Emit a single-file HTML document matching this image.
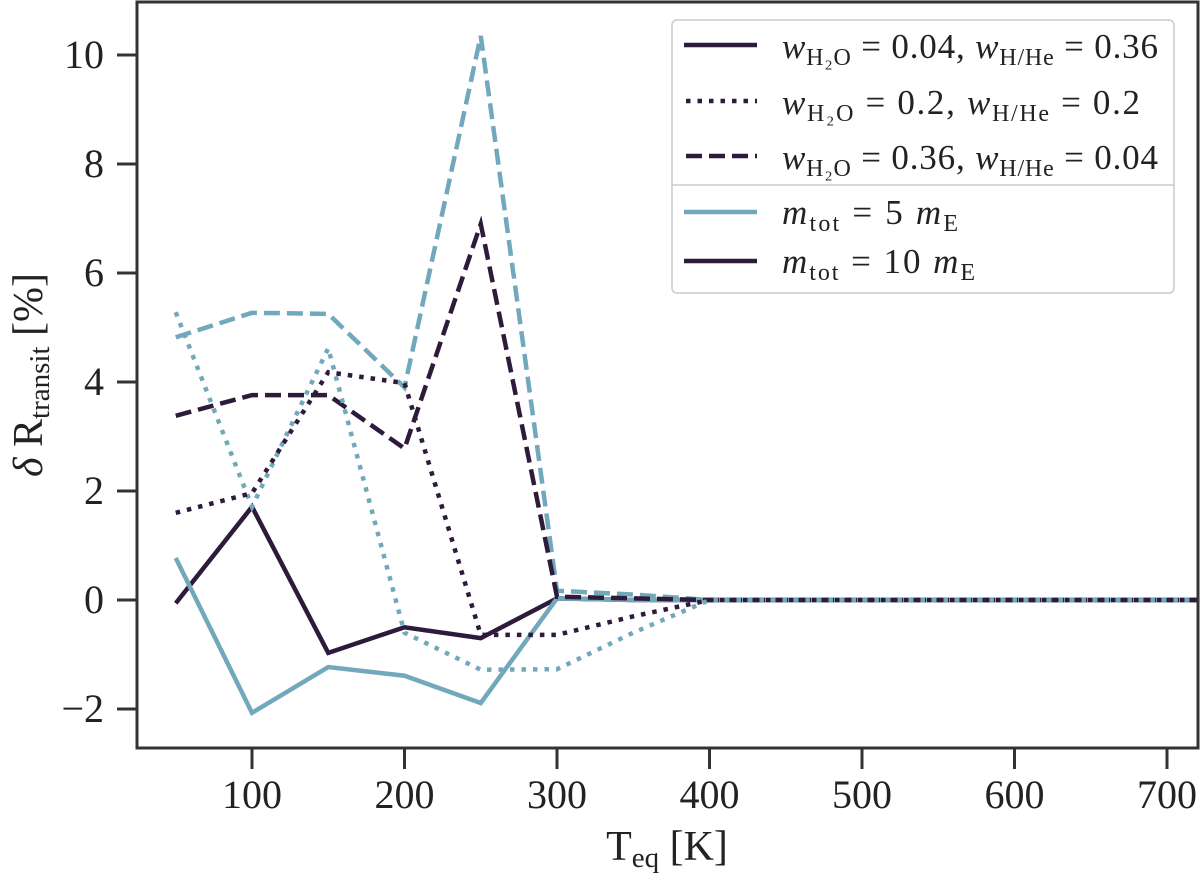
<!DOCTYPE html>
<html><head><meta charset="utf-8"><style>
html,body{margin:0;padding:0;background:#fff;}
svg, svg text{font-family:"Liberation Serif","Times New Roman","DejaVu Serif",serif;}
</style></head><body>
<svg id="chart" width="1200" height="875" viewBox="0 0 1200 875" font-family="Liberation Serif, serif">
<g id="plot"></g>
<rect x="137" y="2" width="1061" height="746" fill="none" stroke="#333" stroke-width="3"/>
<g id="ticks"></g>
<text x="667" y="860" font-size="42" text-anchor="middle" fill="#222">T<tspan font-size="29" dy="7">eq</tspan><tspan dy="-7"> [K]</tspan></text>
<text transform="translate(42,375) rotate(-90)" font-size="42" text-anchor="middle" fill="#222"><tspan font-style="italic">δ</tspan> R<tspan font-size="29" dy="7">transit</tspan><tspan dy="-7"> [%]</tspan></text>
<g>
<rect x="672" y="20" width="502" height="273" rx="5" fill="#fff" fill-opacity="0.85" stroke="#ccc" stroke-width="1.5"/>
<line x1="672" y1="185" x2="1174" y2="185" stroke="#ccc" stroke-width="1.5"/>
<g font-size="35" fill="#222">
<line x1="684" y1="45" x2="757" y2="45" stroke="#2e1a3b" stroke-width="4.5"/>
<text x="782" y="58" textLength="376" lengthAdjust="spacing"><tspan font-style="italic">w</tspan><tspan font-size="24" dy="7">H₂O</tspan><tspan dy="-7"> = 0.04, </tspan><tspan font-style="italic">w</tspan><tspan font-size="24" dy="7">H/He</tspan><tspan dy="-7"> = 0.36</tspan></text>
<line x1="686" y1="101" x2="757" y2="101" stroke="#2e1a3b" stroke-width="4.5" stroke-dasharray="4.5,7"/>
<text x="782" y="114" textLength="358" lengthAdjust="spacing"><tspan font-style="italic">w</tspan><tspan font-size="24" dy="7">H₂O</tspan><tspan dy="-7"> = 0.2,    </tspan><tspan font-style="italic">w</tspan><tspan font-size="24" dy="7">H/He</tspan><tspan dy="-7"> = 0.2</tspan></text>
<line x1="686" y1="156" x2="757" y2="156" stroke="#2e1a3b" stroke-width="4.5" stroke-dasharray="16,7"/>
<text x="782" y="169" textLength="376" lengthAdjust="spacing"><tspan font-style="italic">w</tspan><tspan font-size="24" dy="7">H₂O</tspan><tspan dy="-7"> = 0.36, </tspan><tspan font-style="italic">w</tspan><tspan font-size="24" dy="7">H/He</tspan><tspan dy="-7"> = 0.04</tspan></text>
<line x1="684" y1="212" x2="757" y2="212" stroke="#72a8bb" stroke-width="4.5"/>
<text x="782" y="224" textLength="176" lengthAdjust="spacing"><tspan font-style="italic">m</tspan><tspan font-size="24" dy="7">tot</tspan><tspan dy="-7"> = 5 </tspan><tspan font-style="italic">m</tspan><tspan font-size="24" dy="7">E</tspan></text>
<line x1="684" y1="261" x2="757" y2="261" stroke="#2e1a3b" stroke-width="4.5"/>
<text x="782" y="273" textLength="193" lengthAdjust="spacing"><tspan font-style="italic">m</tspan><tspan font-size="24" dy="7">tot</tspan><tspan dy="-7"> = 10 </tspan><tspan font-style="italic">m</tspan><tspan font-size="24" dy="7">E</tspan></text>
</g></g>
</svg>
<script>
const temps = [50,100,150,200,250,300,350,400,450,500,550,600,650,700,750];
const lightSolid  = [0.77,-2.07,-1.23,-1.39,-1.89,0.03,0,0,0,0,0,0,0,0,0];
const darkSolid   = [-0.06,1.71,-0.97,-0.5,-0.7,0.03,0,0,0,0,0,0,0,0,0];
const lightDotted = [5.28,1.71,4.62,-0.6,-1.28,-1.27,-0.6,0,0,0,0,0,0,0,0];
const darkDotted  = [1.6,1.96,4.18,3.98,-0.64,-0.64,-0.3,0,0,0,0,0,0,0,0];
const lightDashed = [4.82,5.27,5.25,3.9,10.35,0.17,0.1,0,0,0,0,0,0,0,0];
const darkDashed  = [3.38,3.76,3.76,2.78,6.9,0.06,0.03,0,0,0,0,0,0,0,0];
const xTicks = [100,200,300,400,500,600,700];
const yTicks = [-2,0,2,4,6,8,10];

const NS='http://www.w3.org/2000/svg';
const xs = v => 252 + (v-100)*1.525;
const ys = v => 600 - v*54.5;
const LIGHT='#72a8bb', DARK='#2e1a3b';
const plot=document.getElementById('plot');
const clip=document.createElementNS(NS,'clipPath'); clip.setAttribute('id','cp');
const cr=document.createElementNS(NS,'rect');
cr.setAttribute('x',137);cr.setAttribute('y',2);cr.setAttribute('width',1061);cr.setAttribute('height',746);
clip.appendChild(cr); plot.appendChild(clip);
plot.setAttribute('clip-path','url(#cp)');
function series(vals,color,dash,name){
  const p=document.createElementNS(NS,'polyline');
  p.setAttribute('points',vals.map((v,i)=>xs(temps[i])+','+ys(v)).join(' '));
  p.setAttribute('fill','none');p.setAttribute('stroke',color);p.setAttribute('stroke-width','4.5');
  if(dash)p.setAttribute('stroke-dasharray',dash);
  
  
  plot.appendChild(p);
}
series(darkSolid,DARK,null,'line-10me-solid');
series(lightSolid,LIGHT,null,'line-5me-solid');
series(lightDashed,LIGHT,'16,7','line-5me-dashed');
series(darkDashed,DARK,'16,7','line-10me-dashed');
series(lightDotted,LIGHT,'4.5,7','line-5me-dotted');
series(darkDotted,DARK,'4.5,7','line-10me-dotted');
const tg=document.getElementById('ticks');
xTicks.forEach(t=>{
  const l=document.createElementNS(NS,'line');
  l.setAttribute('x1',xs(t));l.setAttribute('x2',xs(t));l.setAttribute('y1',748);l.setAttribute('y2',769);
  l.setAttribute('stroke','#333');l.setAttribute('stroke-width','3');
  
  
  tg.appendChild(l);
  const tx=document.createElementNS(NS,'text');
  tx.setAttribute('x',xs(t));tx.setAttribute('y',808);tx.setAttribute('text-anchor','middle');
  tx.setAttribute('font-size','40');tx.setAttribute('fill','#222');tx.textContent=t;
  
  
  tg.appendChild(tx);
});
yTicks.forEach(t=>{
  const l=document.createElementNS(NS,'line');
  l.setAttribute('x1',117);l.setAttribute('x2',137);l.setAttribute('y1',ys(t));l.setAttribute('y2',ys(t));
  l.setAttribute('stroke','#333');l.setAttribute('stroke-width','3');
  
  
  tg.appendChild(l);
  const tx=document.createElementNS(NS,'text');
  tx.setAttribute('x',104);tx.setAttribute('y',ys(t)+13);tx.setAttribute('text-anchor','end');
  tx.setAttribute('font-size','40');tx.setAttribute('fill','#222');tx.textContent=t<0?'\u2212'+(-t):t;
  
  
  tg.appendChild(tx);
});
</script>
</body></html>
